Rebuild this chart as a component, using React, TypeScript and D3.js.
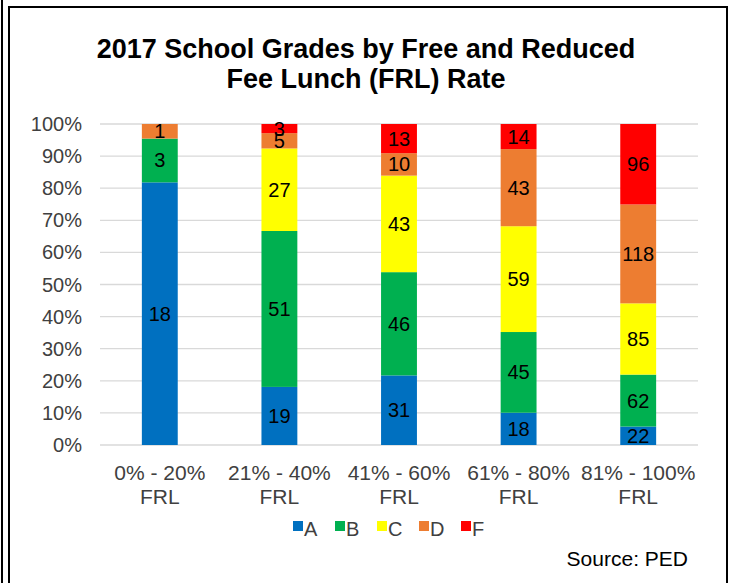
import React from "react";
import * as d3 from "d3";

const categories = ["0% - 20%|FRL", "21% - 40%|FRL", "41% - 60%|FRL", "61% - 80%|FRL", "81% - 100%|FRL"];
const gradeA = [18, 19, 31, 18, 22];
const gradeB = [3, 51, 46, 45, 62];
const gradeC = [0, 27, 43, 59, 85];
const gradeD = [1, 5, 10, 43, 118];
const gradeF = [0, 3, 13, 14, 96];
const seriesNames = ["A", "B", "C", "D", "F"];
const seriesColors = ["#0070C0", "#00B050", "#FFFF00", "#ED7D31", "#FF0000"];
const yTicks = [0, 0.1, 0.2, 0.3, 0.4, 0.5, 0.6, 0.7, 0.8, 0.9, 1.0];

const W = 732, H = 583;
const plot = { left: 100, right: 698, top: 124, bottom: 445 };
const FONT = "'Liberation Sans', Arial, sans-serif";

export default function App() {
  const seriesValues = [gradeA, gradeB, gradeC, gradeD, gradeF];
  const rows = categories.map((c, i) => {
    const r: any = { cat: c };
    seriesNames.forEach((s, k) => (r[s] = seriesValues[k][i]));
    return r;
  });
  const stack = d3.stack<any>().keys(seriesNames).offset(d3.stackOffsetExpand);
  const layers = stack(rows);
  const x = d3.scaleBand().domain(categories).range([plot.left, plot.right]).paddingInner(0.7).paddingOuter(0.35);
  const y = d3.scaleLinear().domain([0, 1]).range([plot.bottom, plot.top]);
  const fmt = d3.format(".0%");

  return (
    <svg width={W} height={H} style={{ position: "absolute", left: 0, top: 0, background: "#fff" }} fontFamily={FONT}>
      <rect x={0} y={0} width={W} height={H} fill="#fff" />
      <line x1={2} y1={0} x2={2} y2={H} stroke="#000" strokeWidth={2} />
      <path d={`M9,${H} V7 H727 V${H}`} fill="none" stroke="#000" strokeWidth={2} />
      <text x={366} y={58} textAnchor="middle" fontSize={27} fontWeight="bold" fill="#000">2017 School Grades by Free and Reduced</text>
      <text x={366} y={88} textAnchor="middle" fontSize={27} fontWeight="bold" fill="#000">Fee Lunch (FRL) Rate</text>
      {yTicks.map((t) => (
        <g key={t}>
          <line x1={plot.left} x2={plot.right} y1={y(t)} y2={y(t)} stroke="#D9D9D9" strokeWidth={1.3} />
          <text x={82} y={y(t) + 7} textAnchor="end" fontSize={20} fill="#404040">{fmt(t)}</text>
        </g>
      ))}
      {layers.map((layer, k) => (
        <g key={layer.key}>
          {layer.map((d, i) => {
            const v = seriesValues[k][i];
            if (v === 0) return null;
            const x0 = x(categories[i])!;
            const y0 = y(d[1]);
            const h = y(d[0]) - y(d[1]);
            return (
              <g key={i}>
                <rect x={x0} y={y0} width={x.bandwidth()} height={h} fill={seriesColors[k]} />
                <text x={x0 + x.bandwidth() / 2} y={y0 + h / 2 + 7} textAnchor="middle" fontSize={20} fill="#000">{v}</text>
              </g>
            );
          })}
        </g>
      ))}
      {categories.map((c) => {
        const cx = x(c)! + x.bandwidth() / 2;
        const [l1, l2] = c.split("|");
        return (
          <g key={c}>
            <text x={cx} y={480} textAnchor="middle" fontSize={21} fill="#404040">{l1}</text>
            <text x={cx} y={504} textAnchor="middle" fontSize={21} fill="#404040">{l2}</text>
          </g>
        );
      })}
      {seriesNames.map((s, k) => {
        const lx = 293 + k * 42;
        return (
          <g key={s}>
            <rect x={lx} y={521} width={10} height={10} fill={seriesColors[k]} />
            <text x={lx + 11} y={536} fontSize={20} fill="#404040">{s}</text>
          </g>
        );
      })}
      <text x={688} y={566} textAnchor="end" fontSize={21} fill="#000">Source: PED</text>
    </svg>
  );
}
